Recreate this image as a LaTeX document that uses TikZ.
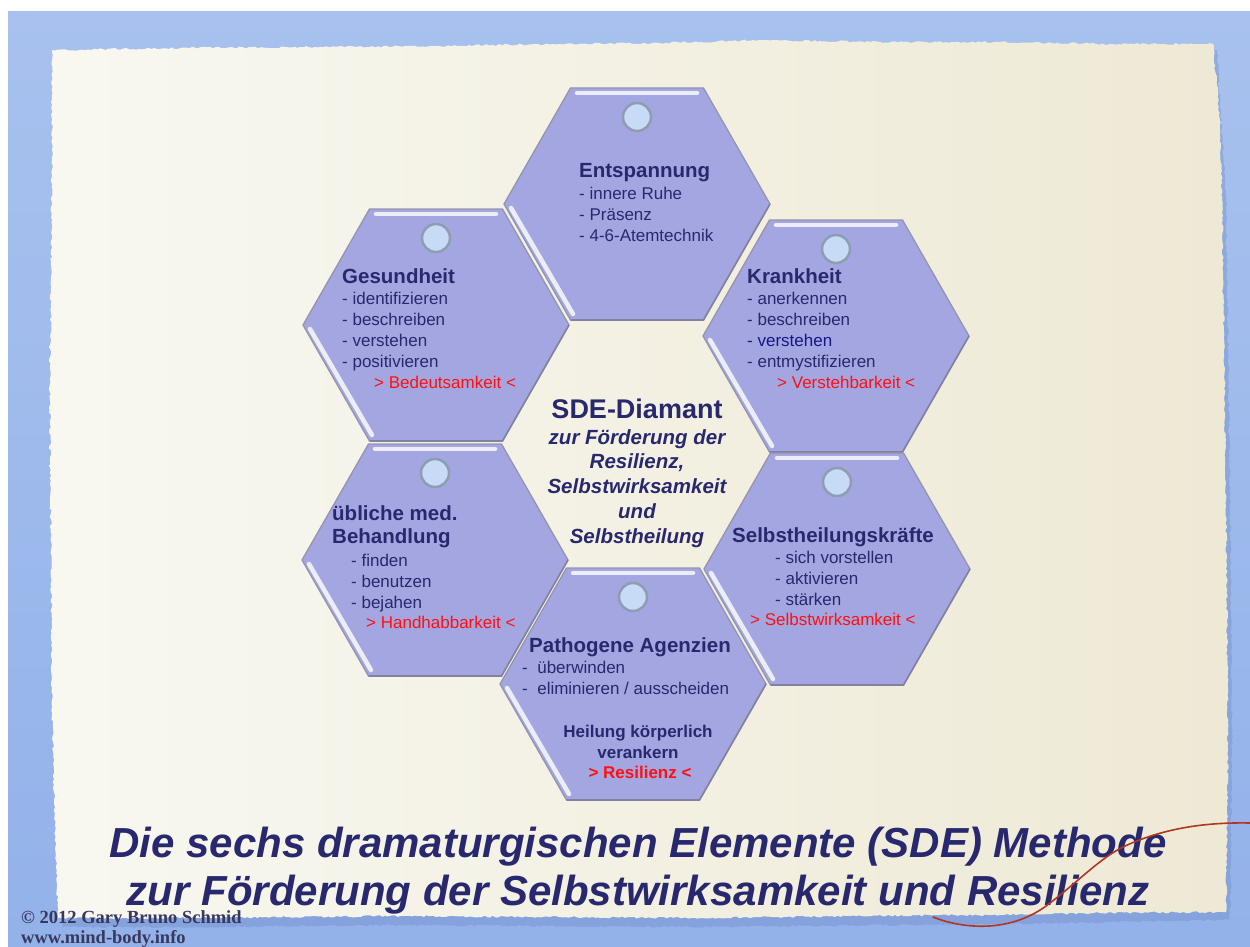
\documentclass[tikz,border=0pt]{standalone}
\usepackage{fontspec}
\setmainfont{Liberation Sans}
\newfontfamily\crfont{Liberation Serif}
\usetikzlibrary{decorations.pathmorphing}
\definecolor{bluebgA}{HTML}{A8C1EE}
\definecolor{bluebgB}{HTML}{93B2EA}
\definecolor{paperL}{HTML}{F8F8F1}
\definecolor{paperR}{HTML}{EEE9D5}
\definecolor{papershadow}{HTML}{6F8CC8}
\definecolor{hexfill}{HTML}{A4A6E1}
\definecolor{hexline}{HTML}{9494AE}
\definecolor{hexdark}{HTML}{8282A0}
\definecolor{dotfill}{HTML}{C7DBF7}
\definecolor{dotline}{HTML}{8F9DB2}
\definecolor{navy}{HTML}{28286E}
\definecolor{deepblue}{HTML}{16168A}
\definecolor{sdered}{HTML}{FF1010}
\definecolor{thread}{HTML}{B3361E}
\definecolor{crcol}{HTML}{38385E}
\newcommand\itemblock[1]{\begin{tabular}[t]{@{}l@{}}#1\end{tabular}}
\newcommand\centerblock[1]{\begin{tabular}[t]{@{}c@{}}#1\end{tabular}}
\tikzset{
  hexbody/.style={fill=hexfill, draw=hexline, line width=1.3pt, line join=round},
  hexshade/.style={draw=hexdark, line width=1.6pt, line join=round},
  hexhl/.style={draw=white, opacity=0.8, line width=4.5pt, line cap=round},
  hexdot/.style={circle, fill=dotfill, draw=dotline, line width=2.5pt, minimum size=28pt, inner sep=0pt},
  titletext/.style={font=\fontsize{20.5}{23}\selectfont\bfseries, text=navy, inner sep=0pt, anchor=base west},
  itemtext/.style={font=\fontsize{17}{21}\selectfont, text=navy, inner sep=0pt, anchor=base west},
  redtext/.style={font=\fontsize{17}{21}\selectfont, text=sdered, inner sep=0pt, anchor=base west},
  bolditem/.style={font=\fontsize{17}{21}\selectfont\bfseries, text=navy, inner sep=0pt, anchor=base},
  redbold/.style={font=\fontsize{17}{21}\selectfont\bfseries, text=sdered, inner sep=0pt, anchor=base},
  centertitle/.style={font=\fontsize{27}{30}\selectfont\bfseries, text=navy, inner sep=0pt, anchor=base},
  centersub/.style={font=\fontsize{20.5}{24.8}\selectfont\bfseries\itshape, text=navy, inner sep=0pt, anchor=base},
  bigtitle/.style={font=\fontsize{42}{48}\selectfont\bfseries\itshape, text=navy, inner sep=0pt, anchor=base},
  crtext/.style={font=\crfont\fontsize{18.5}{20}\selectfont\bfseries, text=crcol, inner sep=0pt, anchor=base west},
  paperedge/.style={decorate, decoration={random steps, segment length=3pt, amplitude=1pt}},
}
\newcommand\sdehex[3]{%
  \begin{scope}[shift={(#1,#2)}]
    \path[hexbody] (-133,0) -- (-66.5,-116) -- (66.5,-116) -- (133,0) -- (66.5,116) -- (-66.5,116) -- cycle;
    \draw[hexshade] (133,0) -- (66.5,116) -- (-66.5,116);
    \draw[hexhl] (-60,-111) -- (60,-111);
    \draw[hexhl] (-126,4) -- (-64,110);
    \node[hexdot] (#3dot) at (0,-87) {};
  \end{scope}}
\begin{document}
\begin{tikzpicture}[x=1pt, y=-1pt]
\pgfmathsetseed{7}
\useasboundingbox (0,0) rectangle (1250,947);
\fill[white] (0,0) rectangle (1250,947);
% blue background
\shade[top color=bluebgA, bottom color=bluebgB] (8,12) rectangle (1250,947);
% paper shadow
\fill[papershadow, opacity=0.4, paperedge] (56,56) -- (300,53) -- (560,50) -- (760,46) -- (1000,48) -- (1217,50)
  -- (1226,200) -- (1230,500) -- (1232,750) -- (1230,920) -- (1000,924) -- (700,927) -- (400,925) -- (180,927) -- (62,927)
  -- (56,700) -- (54,400) -- (56,150) -- cycle;
% paper
\shade[left color=paperL, right color=paperR, paperedge] (52,50) -- (180,48) -- (300,47) -- (430,46) -- (560,44) -- (660,43) -- (760,40) -- (880,42) -- (1000,42) -- (1110,44) -- (1213,44)
  -- (1220,120) -- (1222,200) -- (1224,350) -- (1226,500) -- (1227,620) -- (1228,750) -- (1226,912) -- (1100,913) -- (1000,915) -- (850,916) -- (700,918) -- (550,917) -- (400,916) -- (290,917) -- (180,918) -- (58,918)
  -- (54,800) -- (52,700) -- (51,550) -- (50,400) -- (51,280) -- (52,150) -- cycle;
% hexagons
\sdehex{436}{325}{ges}
\sdehex{435}{560}{beh}
\sdehex{637}{204}{ent}
\sdehex{836}{336}{kra}
\sdehex{837}{569}{sel}
\sdehex{633}{684}{pat}
% Entspannung
\node[titletext] (entT) at (579,177) {Entspannung};
\node[itemtext] (entI) at (579,199) {\itemblock{- innere Ruhe\\- Präsenz\\- 4-6-Atemtechnik}};
% Gesundheit
\node[titletext] (gesT) at (342,283) {Gesundheit};
\node[itemtext] (gesI) at (342,304) {\itemblock{- identifizieren\\- beschreiben\\- verstehen\\- positivieren}};
\node[redtext] (gesR) at (374,388) {> Bedeutsamkeit <};
% Krankheit
\node[titletext] (kraT) at (747,283) {Krankheit};
\node[itemtext] (kraI) at (747,304) {\itemblock{- anerkennen\\- beschreiben\\\textcolor{deepblue}{- verstehen}\\- entmystifizieren}};
\node[redtext] (kraR) at (777,388) {> Verstehbarkeit <};
% Behandlung
\node[titletext] (behT) at (332,520) {übliche med.};
\node[titletext] (behT2) at (332,543) {Behandlung};
\node[itemtext] (behI) at (351,566) {\itemblock{- finden\\- benutzen\\- bejahen}};
\node[redtext] (behR) at (366,628) {> Handhabbarkeit <};
% Selbstheilungskraefte
\node[titletext] (selT) at (732,542) {Selbstheilungskräfte};
\node[itemtext] (selI) at (775,563) {\itemblock{- sich vorstellen\\- aktivieren\\- stärken}};
\node[redtext] (selR) at (750,625) {> Selbstwirksamkeit <};
% Pathogene Agenzien
\node[titletext] (patT) at (529,652) {Pathogene Agenzien};
\node[itemtext] (patI) at (522,673) {\itemblock{-\ \ überwinden\\-\ \ eliminieren / ausscheiden}};
\node[bolditem] (patH) at (638,737) {\centerblock{Heilung körperlich\\verankern}};
\node[redbold] (patR) at (640,778) {> Resilienz <};
% centre
\node[centertitle] (cT) at (637,418) {SDE-Diamant};
\node[centersub] (cS) at (637,444) {\centerblock{zur Förderung der\\Resilienz,\\Selbstwirksamkeit\\und\\Selbstheilung}};
% bottom title
\node[bigtitle] (bT) at (638,857) {\centerblock{Die sechs dramaturgischen Elemente (SDE) Methode\\zur Förderung der Selbstwirksamkeit und Resilienz}};
% thread
\draw[thread, line width=1.6pt, line cap=round] (933,917) .. controls (960,928) and (1010,935) .. (1050,903)
  .. controls (1080,880) and (1100,858) .. (1125,846) .. controls (1160,830) and (1200,822) .. (1250,823);
% copyright
\node[crtext] (cr) at (21,923) {\itemblock{© 2012 Gary Bruno Schmid\\www.mind-body.info}};
\end{tikzpicture}
\end{document}
